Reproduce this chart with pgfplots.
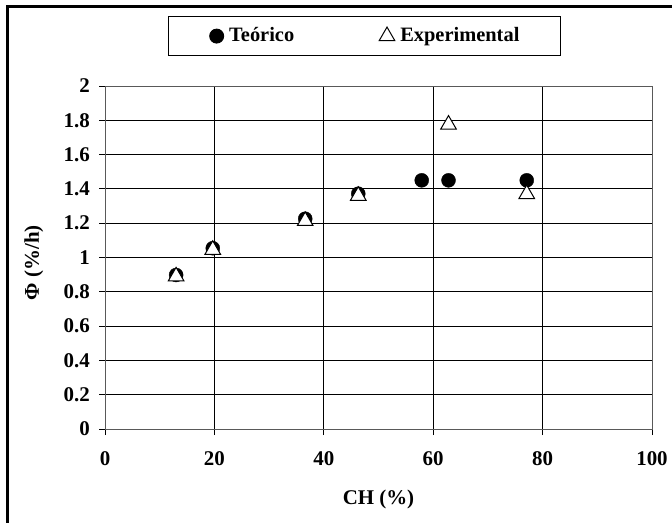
\documentclass[border=0pt]{standalone}
\usepackage{fontspec}
\setmainfont{Liberation Serif}
\usepackage{pgfplots}
\pgfplotsset{compat=1.18}
\pgfplotsset{
  oneleg/.style={legend image code/.code={\draw[##1] plot coordinates {(0bp,0bp)};}},
}
\begin{document}
\begin{tikzpicture}
\fontsize{21}{25}\selectfont\bfseries
\useasboundingbox (0,0) rectangle (672bp,523bp);
\draw[line width=3bp] (7.5bp,0) -- (7.5bp,516bp) -- (673bp,516bp);
\begin{axis}[
  at={(105bp,94bp)}, anchor=south west,
  scale only axis, width=547bp, height=343bp,
  xmin=0, xmax=100, ymin=0, ymax=2,
  xtick={0,20,40,60,80,100},
  ytick={0,0.2,0.4,0.6,0.8,1,1.2,1.4,1.6,1.8,2},
  grid=major, grid style={black, line width=0.9bp},
  axis line style={gray!70!black, line width=0.9bp},
  tick style={black, line width=0.9bp},
  tick align=outside, major tick length=6bp,
  xtick pos=left, ytick pos=left,
  font=\fontsize{21}{25}\selectfont\bfseries,
  /pgf/number format/assume math mode=true,
  yticklabel style={/pgf/number format/fixed, /pgf/number format/precision=1, xshift=-2bp},
  xticklabel style={yshift=-9bp},
  xlabel={CH (\%)}, ylabel={Φ (\%/h)},
  xlabel style={at={(axis description cs:0.5,-0.204)}, anchor=center},
  ylabel style={at={(axis description cs:-0.13,0.485)}, anchor=center},
  legend columns=2,
  legend style={at={(axis description cs:0.4745,1.146)}, anchor=center,
    draw=black, line width=0.9bp, inner xsep=41bp, inner ysep=11bp,
    font=\fontsize{20.5}{24}\selectfont\bfseries,
    nodes={inner sep=0pt},
    /tikz/every odd column/.append style={column sep=5.5bp},
    /tikz/every even column/.append style={column sep=85bp}},
]
\addplot[only marks, mark=*, mark size=7bp, black, oneleg]
  coordinates {(13,0.898) (19.7,1.054) (36.6,1.226) (46.3,1.372) (57.9,1.45) (62.8,1.45) (77.1,1.45)};
\addlegendentry{Teórico}
\addplot[only marks, mark=triangle*, mark size=9bp, black,
  mark options={fill=white, draw=black, line width=1bp}, oneleg]
  coordinates {(13,0.89) (19.7,1.045) (36.6,1.213) (46.3,1.36) (62.8,1.775) (77.1,1.37)};
\addlegendentry{Experimental}
\end{axis}
\end{tikzpicture}
\end{document}
